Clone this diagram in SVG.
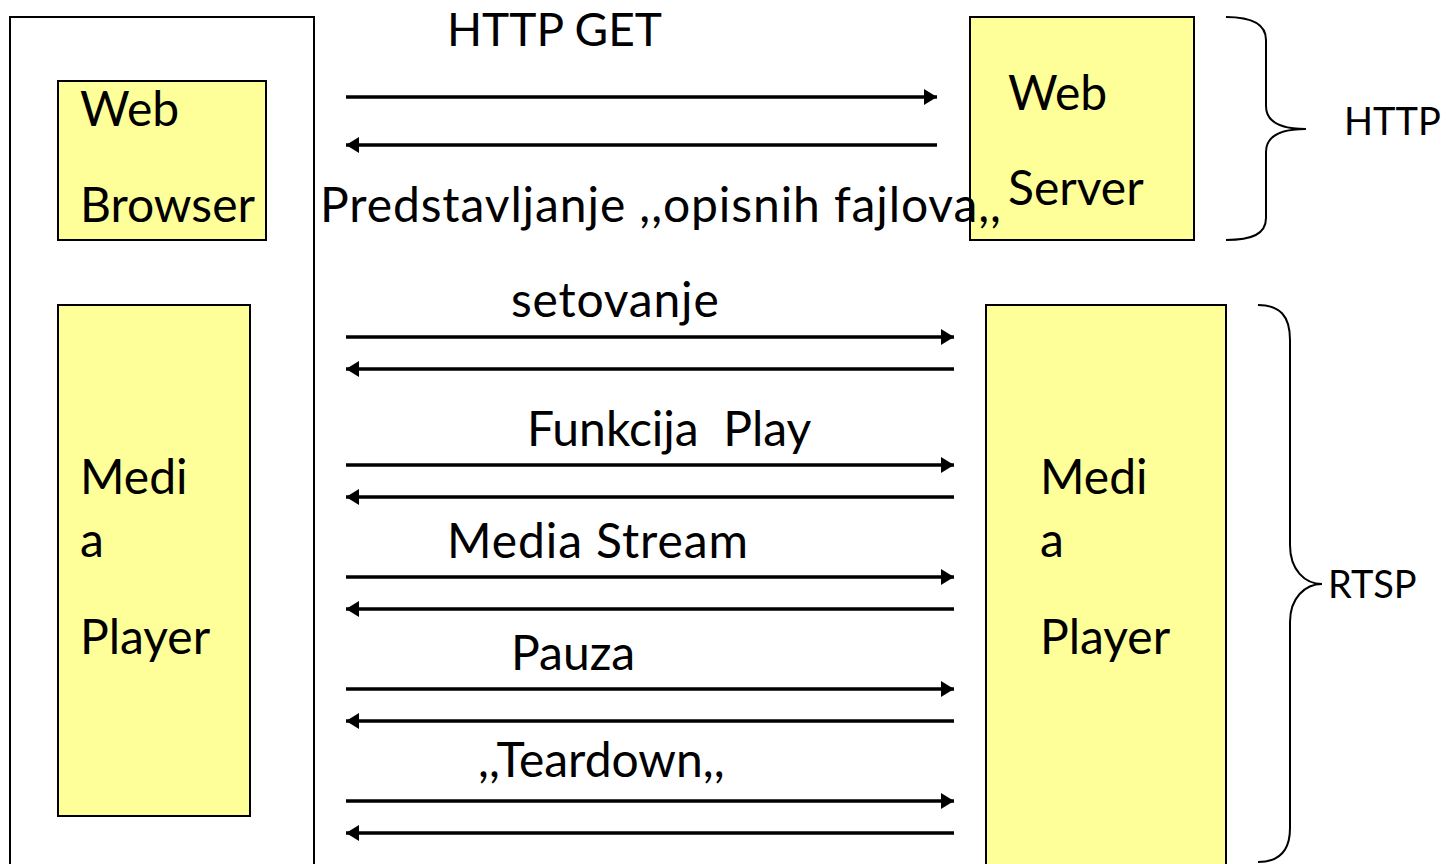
<svg xmlns="http://www.w3.org/2000/svg" width="1456" height="864" viewBox="0 0 1456 864">
<defs>
<style>
.box{fill:#FFFF99;stroke:#000;stroke-width:2}
.frame{fill:none;stroke:#000;stroke-width:2}
.t{font-family:Lato,"Liberation Sans",sans-serif;font-size:48px;fill:#000}
.s{font-family:Lato,"Liberation Sans",sans-serif;font-size:38px;fill:#000}
.ln{stroke:#000;stroke-width:3.5;fill:none}
.fw{marker-end:url(#ah)}
.bw{marker-start:url(#ahs)}
.br{fill:none;stroke:#000;stroke-width:2}
</style>
<marker id="ah" markerUnits="userSpaceOnUse" markerWidth="14" markerHeight="16" refX="13" refY="8" orient="auto"><path d="M0,0 L13,8 L0,16 Z" fill="#000"/></marker>
<marker id="ahs" markerUnits="userSpaceOnUse" markerWidth="14" markerHeight="16" refX="1" refY="8" orient="auto"><path d="M14,0 L1,8 L14,16 Z" fill="#000"/></marker>
</defs>
<rect width="1456" height="864" fill="#fff"/>
<g id="client-frame"><path class="frame" d="M10,866 V17 H314 V866"/></g>
<g id="web-browser"><rect class="box" x="58" y="81" width="208" height="159"/><text class="t" x="80" y="126">Web</text><text class="t" x="80" y="222">Browser</text></g>
<g id="media-player-client"><rect class="box" x="58" y="305" width="192" height="511"/><text class="t" x="80" y="494">Medi</text><text class="t" x="80" y="557">a</text><text class="t" x="80" y="654">Player</text></g>
<g id="web-server"><rect class="box" x="970" y="17" width="224" height="223"/><text class="t" x="1008" y="110">Web</text><text class="t" x="1008" y="205">Server</text></g>
<g id="media-player-server"><rect class="box" x="986" y="305" width="240" height="562"/><text class="t" x="1040" y="494">Medi</text><text class="t" x="1040" y="557">a</text><text class="t" x="1040" y="654">Player</text></g>
<g id="connectors">
<line class="ln fw" x1="346" y1="97" x2="937" y2="97"/>
<line class="ln bw" x1="346" y1="145" x2="937" y2="145"/>
<line class="ln fw" x1="346" y1="337" x2="954" y2="337"/>
<line class="ln bw" x1="346" y1="369" x2="954" y2="369"/>
<line class="ln fw" x1="346" y1="465" x2="954" y2="465"/>
<line class="ln bw" x1="346" y1="497" x2="954" y2="497"/>
<line class="ln fw" x1="346" y1="577" x2="954" y2="577"/>
<line class="ln bw" x1="346" y1="609" x2="954" y2="609"/>
<line class="ln fw" x1="346" y1="689" x2="954" y2="689"/>
<line class="ln bw" x1="346" y1="721" x2="954" y2="721"/>
<line class="ln fw" x1="346" y1="801" x2="954" y2="801"/>
<line class="ln bw" x1="346" y1="833" x2="954" y2="833"/>
</g>
<g id="labels">
<text class="t" x="447" y="46" style="font-size:46px">HTTP GET</text>
<text class="t" x="320" y="222" style="letter-spacing:0.9px">Predstavljanje ,,opisnih fajlova,,</text>
<text class="t" x="511" y="317" style="letter-spacing:0.8px">setovanje</text>
<text class="t" x="527" y="446" xml:space="preserve">Funkcija  Play</text>
<text class="t" x="447" y="558" style="letter-spacing:0.9px">Media Stream</text>
<text class="t" x="511" y="670">Pauza</text>
<text class="t" x="478" y="777">,,Teardown,,</text>
</g>
<g id="http-brace"><path class="br" d="M1226,17 C1252,17 1266,24 1266,40 V106 C1266,122 1280,129 1306,129 C1280,129 1266,136 1266,152 V218 C1266,234 1252,240 1226,240"/><text class="s" x="1344" y="135">HTTP</text></g>
<g id="rtsp-brace"><path class="br" d="M1258,305 C1280,305 1290,316 1290,340 V545 C1290,570 1305,584 1322,584 C1305,584 1290,598 1290,622 V828 C1290,850 1280,862 1258,862"/><text class="s" x="1328" y="598">RTSP</text></g>
</svg>
